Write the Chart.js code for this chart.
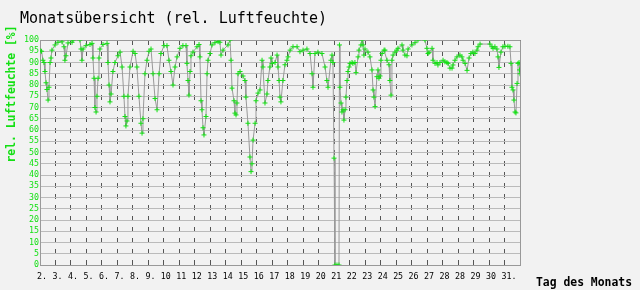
<!DOCTYPE html>
<html>
<head>
<meta charset="utf-8">
<script src="https://cdn.jsdelivr.net/npm/chart.js@4"></script>
<style>
  html, body { margin: 0; padding: 0; background: #f2f2f2; }
</style>
</head>
<body>
<canvas id="chart" width="640" height="290"></canvas>
<script>
// tick labels along the bottom, one per day line (as printed, incl. the double 28)
const dayLabels = ['2.', '3.', '4.', '5.', '6.', '7.', '8.', '9.', '10', '11', '12', '13', '14', '15',
  '16', '17', '18', '19', '20', '21', '22', '23', '24', '25', '26', '27', '28', '28', '29', '30', '31.'];

// position in days from the left edge of the plot
const dayPos = [
  0, 0.10, 0.19, 0.26, 0.32, 0.39, 0.45, 0.52, 0.58, 0.65, 0.71, 0.77, 0.97, 1.16, 1.42, 1.55, 1.61, 1.68, 1.81,
  2.07, 2.13, 2.58, 2.65, 2.71, 2.78, 2.97, 3.23, 3.36, 3.42, 3.49, 3.55, 3.62, 3.68, 3.75, 3.81, 3.87,
  4.07, 4.33, 4.39, 4.46, 4.52, 4.59, 4.71, 4.84, 5.04, 5.17, 5.30, 5.42, 5.49, 5.55, 5.62, 5.68, 5.81,
  6.01, 6.14, 6.26, 6.39, 6.52, 6.59, 6.65, 6.78, 6.91, 7.04, 7.17, 7.30, 7.43, 7.56, 7.69, 7.81,
  8.01, 8.20, 8.33, 8.46, 8.59, 8.72, 8.85, 9.04, 9.23, 9.43, 9.49, 9.56, 9.62, 9.69, 9.75, 9.88,
  10.14, 10.27, 10.33, 10.40, 10.46, 10.53, 10.59, 10.72, 10.79, 10.85, 10.98, 11.11, 11.30, 11.50, 11.62, 11.69, 11.82,
  12.14, 12.27, 12.34, 12.40, 12.53, 12.59, 12.66, 12.72, 12.79, 12.92, 13.11, 13.24, 13.30, 13.43, 13.56, 13.63, 13.69, 13.76, 13.89, 13.95,
  14.08, 14.21, 14.34, 14.40, 14.53, 14.66, 14.72, 14.85, 14.92, 14.98, 15.18, 15.31, 15.37, 15.44, 15.50, 15.56, 15.69, 15.82, 15.95,
  16.02, 16.15, 16.34, 16.60, 16.79, 16.99, 17.24, 17.44, 17.57, 17.63, 17.76, 17.95,
  18.21, 18.41, 18.53, 18.60, 18.79, 18.86, 18.92, 18.99, 19.05, 19.18, 19.31, 19.34, 19.37, 19.44, 19.50, 19.57, 19.63, 19.70, 19.76, 19.83, 19.89, 19.96,
  20.02, 20.15, 20.21, 20.34, 20.41, 20.54, 20.60, 20.73, 20.80, 20.86, 20.92, 20.99, 21.18, 21.31, 21.44, 21.51, 21.57, 21.64, 21.76, 21.83, 21.89, 21.96,
  22.02, 22.09, 22.22, 22.28, 22.41, 22.54, 22.60, 22.67, 22.73, 22.80, 22.93, 23.05, 23.12, 23.38, 23.44, 23.57, 23.70, 23.77,
  24.02, 24.22, 24.41, 24.86, 24.99, 25.06, 25.12, 25.32, 25.38, 25.51, 25.64, 25.70, 25.83,
  26.03, 26.15, 26.28, 26.35, 26.48, 26.61, 26.67, 26.80, 26.93, 27.12, 27.25, 27.32, 27.45, 27.58, 27.71, 27.83, 27.96,
  28.09, 28.22, 28.29, 28.42, 29.06, 29.19, 29.26, 29.38, 29.51, 29.58, 29.64, 29.77, 29.90,
  30.03, 30.22, 30.35, 30.42, 30.48, 30.55, 30.61, 30.68, 30.74, 30.81, 30.87, 30.94, 30.97, 31.00
];

// rel. humidity in %
const humidity = [
  95.2, 95, 91, 90, 86, 81, 78, 73.3, 79, 90, 92, 95.5, 97.8, 99, 99.2, 97, 91, 93, 98.7,
  99, 100, 100, 96, 91, 96, 97.5, 98, 98.5, 92, 83, 70, 68, 75, 83, 92, 96,
  98, 98.5, 90, 80, 72.5, 76, 86, 90, 93, 94.6, 88, 75, 66, 61.8, 64, 75, 88,
  95, 94, 88, 75, 63, 58.6, 65, 85, 91, 95, 96, 85, 74, 69, 85, 94,
  97.5, 97.5, 91, 86, 80, 88, 92.5, 96.3, 97.5, 97.5, 89.6, 82, 75.5, 86, 93, 94.6,
  97, 98, 92.5, 73, 69, 61, 57.8, 66, 85, 91, 94, 97.8, 98.8, 99.3, 99, 93.3, 95.5,
  97.8, 100, 91, 78.6, 73, 67.5, 66.7, 72, 85, 86, 84, 82, 74.6, 63, 48, 41.5, 45, 55.5, 63, 73,
  76.4, 77.8, 91, 88, 72, 76, 82, 88, 92, 89.6, 90, 93.3, 88, 82, 74.6, 72.5, 82, 89, 91,
  92.5, 95.5, 97, 97, 94.8, 95.5, 96, 94, 85, 79, 94, 94.6,
  94, 88, 82, 79, 91, 93.3, 90, 47.5, 0, 0, 0, 97.8, 79, 72, 68, 69, 64.4, 69, 74.6, 82, 86, 88,
  89.6, 90, 89.6, 90, 85.5, 92.5, 95.5, 97.8, 100, 97.8, 93.3, 96, 94.6, 92.5, 86.7, 77.8, 74.6, 70.4, 83.7, 86.7, 83, 84,
  91, 94, 95.5, 95.5, 91, 89, 82, 75.5, 91, 93.3, 94.6, 95.5, 96.3, 97.8, 95.5, 93.3, 93, 96,
  97.8, 98.8, 100, 100, 96.3, 94, 94.5, 96.3, 91, 89.6, 90, 88.9, 90,
  91, 90.3, 90, 89.6, 87.5, 87.5, 88.9, 91, 92.5, 93.3, 92.5, 91, 89.6, 86.5, 92, 94, 94.6,
  94, 95.5, 97, 98.2, 98.2, 97, 96.3, 97, 96, 92.5, 87.8, 94.6, 97,
  97.2, 97.2, 97, 89.6, 79, 77.8, 73.3, 68, 67.6, 80.7, 89.6, 90, 86.7, 85
];

const green = '#14e014';
const mono = "'DejaVu Sans Mono', monospace";

const chrome = {
  id: 'chrome',
  beforeDraw(chart) {
    const c = chart.ctx;
    c.save();
    c.fillStyle = '#f2f2f2';
    c.fillRect(0, 0, chart.width, chart.height);
    c.restore();
  },
  beforeDatasetsDraw(chart) {
    const { ctx: c, chartArea: a } = chart;
    c.save();
    c.strokeStyle = '#999';
    c.lineWidth = 1;
    c.beginPath();
    c.moveTo(a.left, a.top + 0.5);
    c.lineTo(a.right + 0.5, a.top + 0.5);
    c.lineTo(a.right + 0.5, a.bottom);
    c.stroke();
    c.restore();
  },
  afterDraw(chart) {
    const c = chart.ctx;
    c.save();
    c.fillStyle = '#000';
    c.font = '15px ' + mono;
    c.textBaseline = 'alphabetic';
    c.fillText('Monatsübersicht (rel. Luftfeuchte)', 20, 23);
    c.font = 'bold 11.4px ' + mono;
    c.fillText('Tag des Monats', 536, 286);
    c.translate(15, 94);
    c.rotate(-Math.PI / 2);
    c.textAlign = 'center';
    c.fillStyle = green;
    c.fillText('rel. Luftfeuchte [%]', 0, 0);
    c.restore();
  }
};

new Chart(document.getElementById('chart'), {
  type: 'line',
  data: {
    datasets: [{
      data: dayPos.map((d, i) => ({ x: d, y: humidity[i] })),
      borderColor: '#999',
      borderWidth: 1,
      tension: 0,
      pointStyle: 'cross',
      pointRadius: 2.5,
      pointBorderWidth: 1,
      pointBorderColor: green,
      pointBackgroundColor: green
    }]
  },
  options: {
    responsive: false,
    animation: false,
    layout: { padding: { top: 40, right: 120, left: 0, bottom: 0 } },
    plugins: { legend: { display: false }, tooltip: { enabled: false } },
    scales: {
      x: {
        type: 'linear',
        min: 0,
        max: 31,
        afterFit: s => { s.height = 25; },
        ticks: {
          stepSize: 1,
          autoSkip: false,
          maxRotation: 0,
          align: 'start',
          labelOffset: -3,
          padding: 7,
          color: '#000',
          font: { family: mono, size: 8.3 },
          callback: v => dayLabels[v] ?? ''
        },
        grid: { color: '#555', drawTicks: false },
        border: { color: '#999', dash: [5, 6] }
      },
      y: {
        min: 0,
        max: 100,
        afterFit: s => { s.width = 40; },
        ticks: {
          stepSize: 5,
          autoSkip: false,
          padding: 1,
          color: green,
          font: { family: mono, size: 8.3 }
        },
        grid: { color: '#bbb', drawTicks: false },
        border: { color: '#999' }
      }
    }
  },
  plugins: [chrome]
});
</script>
</body>
</html>
